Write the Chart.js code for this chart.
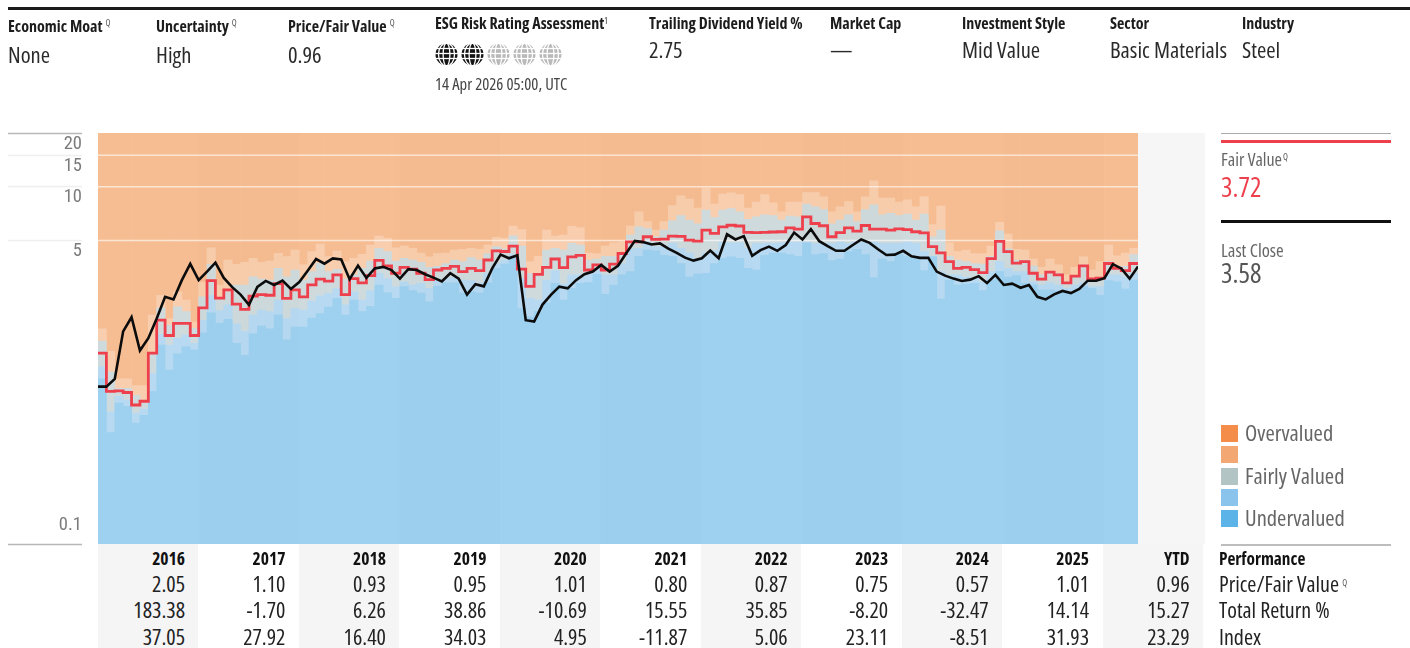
<!DOCTYPE html>
<html><head><meta charset="utf-8">
<script src="https://cdn.jsdelivr.net/npm/chart.js@4/dist/chart.umd.min.js"></script>
<style>
html,body{margin:0;padding:0;background:#fff;width:1410px;height:648px;overflow:hidden}
body{position:relative;font-family:'Open Sans',sans-serif;font-stretch:condensed;color:#222}
canvas{position:absolute;left:0;top:0}
.t{position:absolute;white-space:nowrap;line-height:1;transform:translateY(-50%)}
.r{position:absolute}
sup.q{font-size:9px;color:#555;font-weight:400;vertical-align:6px;line-height:0;margin-left:3px}
</style></head><body>
<canvas id="c" width="1410" height="648"></canvas>
<script>
const years=['2016','2017','2018','2019','2020','2021','2022','2023','2024','2025'];
const monthNames=['Jan','Feb','Mar','Apr','May','Jun','Jul','Aug','Sep','Oct','Nov','Dec'];
const axisTicks=[20,15,10,5,0.1];
const axisMax=20, axisMin=0.1;
const gridLevels=[15,10,5];

// valuation band boundaries (one per month)
const overLimit=[1.60,1.20,0.84,0.84,0.77,0.77,1.91,2.47,1.83,2.58,2.32,1.75,
2.92,4.55,2.82,3.89,3.68,3.78,3.97,3.78,3.84,4.24,4.07,4.42,
3.65,4.33,4.77,4.07,4.37,3.81,3.97,4.19,4.71,5.30,5.14,4.55,
4.65,4.52,4.26,4.05,4.23,4.26,4.42,4.46,4.52,4.47,4.72,5.21,
5.15,6.03,5.75,3.81,4.08,5.72,5.29,5.37,6.00,5.89,4.26,4.21,
4.65,4.85,4.92,6.03,7.24,6.39,5.72,6.39,7.84,8.90,8.52,7.59,
9.79,8.00,9.10,9.24,9.04,7.59,8.21,9.04,8.13,7.24,8.21,8.21,
9.27,9.27,8.79,7.24,7.72,8.27,7.24,8.79,10.8,8.65,8.65,8.21,
8.45,7.72,8.79,6.15,7.79,4.85,4.33,4.42,4.23,4.23,4.65,6.33,
5.43,4.46,4.42,3.94,3.54,3.94,3.65,3.21,3.54,4.05,3.42,3.81,
4.72,4.11,4.26,4.52];
const fairHigh=[1.37,0.92,0.745,0.745,0.68,0.64,1.17,2.10,1.68,2.13,2.00,1.61,
2.42,3.68,2.37,2.58,2.82,2.82,3.13,3.04,3.00,3.49,3.13,3.42,
3.00,3.35,3.73,3.35,3.45,3.04,3.21,3.49,3.84,4.51,4.33,3.84,
3.98,3.89,3.77,3.54,3.58,3.72,3.89,3.81,4.01,3.89,4.23,4.62,
4.50,5.31,4.65,3.28,3.28,4.42,4.52,4.42,4.82,4.72,3.89,3.94,
4.08,4.08,4.26,5.37,5.97,5.83,5.25,5.72,6.45,6.90,6.51,6.21,
7.41,6.72,7.41,7.55,7.24,6.57,6.78,6.97,6.90,6.51,6.85,6.78,
8.00,7.72,7.45,6.21,6.51,6.97,6.39,7.45,7.93,6.97,7.10,6.90,
7.04,6.51,7.04,5.25,5.72,4.08,3.89,3.81,3.72,3.69,4.08,5.67,
4.50,3.89,3.89,3.61,3.21,3.35,3.28,2.94,3.12,3.65,3.06,3.06,
3.81,3.49,3.58,4.17];
const fairLow=[0.98,0.55,0.67,0.64,0.54,0.57,0.90,1.49,1.30,1.42,1.48,1.33,
1.79,2.47,2.03,2.18,1.71,1.55,1.91,2.04,2.00,2.32,1.83,2.08,
2.04,2.29,2.45,2.53,2.69,2.18,2.58,2.32,2.62,3.28,3.06,2.75,
2.94,2.82,2.88,2.70,3.00,3.06,3.10,3.00,2.98,2.88,3.28,3.72,
3.89,4.17,3.06,2.37,2.32,3.00,3.39,2.85,3.21,3.21,3.28,3.49,
3.21,3.21,3.72,4.50,4.52,4.92,4.62,4.62,4.82,4.52,4.26,3.98,
4.26,4.38,4.92,4.85,4.85,4.52,4.82,4.82,4.82,4.85,4.92,4.92,
4.92,4.82,4.82,4.82,4.92,4.82,4.92,4.92,4.92,4.82,4.82,4.82,
4.92,4.82,4.33,4.08,3.35,3.21,3.21,3.12,3.06,2.94,3.35,3.81,
3.49,3.35,3.35,2.94,2.82,2.90,2.82,2.70,2.82,2.90,2.76,2.76,
3.21,3.21,3.12,3.28];
const underLimit=[0.84,0.42,0.615,0.59,0.475,0.525,0.715,1.30,0.94,1.16,1.27,1.22,
1.52,1.97,1.72,1.81,1.33,1.14,1.50,1.66,1.60,1.91,1.39,1.64,
1.64,1.84,1.95,2.12,2.37,1.91,2.32,2.00,2.14,2.82,2.55,2.37,
2.76,2.62,2.54,2.27,2.77,2.90,2.90,2.54,2.58,2.54,2.90,3.49,
3.69,4.08,2.08,1.87,2.00,2.23,2.88,2.32,2.70,2.88,2.91,3.23,
2.50,2.82,3.21,3.35,4.08,4.42,4.38,4.13,4.08,3.72,3.12,3.24,
3.28,3.72,3.98,4.05,3.98,3.49,3.42,4.13,4.26,4.26,4.17,4.08,
4.85,4.17,4.23,3.86,3.94,4.33,4.46,4.17,3.10,3.94,3.81,4.17,
4.08,4.05,3.39,4.05,2.35,3.00,2.82,2.85,2.88,2.62,3.00,3.35,
3.12,3.18,2.88,2.82,2.64,2.64,2.61,2.58,2.58,2.76,2.70,2.47,
2.98,2.94,2.67,3.00];
const fairValue=[1.17,0.715,0.72,0.705,0.60,0.63,1.17,1.79,1.47,1.72,1.72,1.47,
2.10,2.98,2.38,2.65,2.20,2.06,2.44,2.49,2.47,2.87,2.37,2.65,
2.42,2.82,3.04,2.96,3.21,2.49,3.06,2.90,3.18,3.87,3.60,3.28,
3.54,3.46,3.28,3.02,3.42,3.49,3.58,3.35,3.49,3.39,3.89,4.38,
4.34,4.65,3.46,2.77,3.23,3.54,3.94,3.53,4.05,4.13,3.42,3.65,
3.42,3.69,4.23,4.92,4.92,5.25,5.07,5.09,5.29,5.27,5.03,4.96,
5.72,5.49,5.97,6.09,6.03,5.56,5.54,5.56,5.58,5.60,5.89,5.79,
6.78,6.23,6.05,5.25,5.54,5.89,5.65,6.07,5.79,5.79,5.72,5.81,
5.75,5.60,5.52,4.62,4.26,3.81,3.49,3.54,3.44,3.31,3.96,4.94,
4.33,3.74,3.81,3.28,3.04,3.33,3.21,2.90,3.16,3.61,3.05,3.08,
3.72,3.49,3.39,3.72,3.72];
const lastClose=[0.76,0.76,0.84,1.55,1.86,1.21,1.42,1.83,2.42,2.34,3.00,3.70,
3.00,3.35,3.76,3.09,2.74,2.49,2.18,2.75,2.97,2.82,2.98,2.68,
2.93,3.39,3.94,3.71,3.97,3.92,3.04,3.62,3.09,3.49,3.56,3.42,
3.06,3.46,3.42,3.24,3.10,2.95,3.28,3.06,2.49,2.85,2.77,3.49,
4.17,3.98,4.13,1.79,1.76,2.19,2.48,2.76,2.70,3.00,3.24,3.35,
3.65,3.35,3.61,4.26,4.98,4.90,4.75,4.82,4.50,4.26,4.01,3.86,
3.98,4.40,3.98,5.42,5.07,5.29,4.11,4.42,4.62,4.38,4.72,5.54,
5.07,5.79,4.96,4.65,4.38,4.38,4.72,5.07,4.85,4.47,4.15,4.17,
4.38,4.08,4.00,4.00,3.35,3.18,3.06,2.97,3.02,3.16,2.89,3.21,
2.82,2.87,2.72,2.82,2.42,2.34,2.50,2.61,2.54,2.68,2.98,2.98,
3.08,3.69,3.49,3.06,3.58];

const rowPFV=['2.05','1.10','0.93','0.95','1.01','0.80','0.87','0.75','0.57','1.01','0.96'];
const rowReturn=['183.38','-1.70','6.26','38.86','-10.69','15.55','35.85','-8.20','-32.47','14.14','15.27'];
const rowIndex=['37.05','27.92','16.40','34.03','4.95','-11.87','5.06','23.11','-8.51','31.93','23.29'];
const rowNames=['Performance','Price/Fair Value','Total Return %','Index'];
const legendNames=['Overvalued','','Fairly Valued','','Undervalued'];
const legendColors=['#F48D4A','#F3A873','#B2C5C4','#8AC3EC','#5CB3E8'];

// ---------- chart ----------
const months=[];
for(const y of years.concat(['2026'])) for(const m of monthNames){ if(months.length<overLimit.length) months.push(m+' '+y); }
const edges=months.concat(['End']);
const shade=(a,b)=>c=>Math.floor(c.dataIndex/12)%2?b:a;
const bar=(label,data,a,b,order)=>({type:'bar',label,data,xAxisID:'x',yAxisID:'y',order,grouped:false,
  barPercentage:1,categoryPercentage:1,borderWidth:0,backgroundColor:shade(a,b),hoverBackgroundColor:shade(a,b)});
const line=(label,data,color,width,order,extra)=>Object.assign({type:'line',label,data,xAxisID:'x2',yAxisID:'y',order,
  borderColor:color,borderWidth:width,pointRadius:0,pointHoverRadius:0,fill:false,tension:0,borderJoinStyle:'miter'},extra||{});
const datasets=[
  line('Last Close',lastClose,'#0c0c0c',2.6,0),
  line('Fair Value',fairValue,'#EE3F4C',2.8,1,{stepped:true}),
  ...gridLevels.map(v=>line('Grid '+v,edges.map(()=>v),'rgba(255,255,255,0.6)',1.4,2)),
  bar('Undervalued',underLimit,'#9ED1EF','#9CCFED',3),
  bar('Undervalued band',fairLow,'#B7D9F1','#B5D7EF',4),
  bar('Fairly Valued',fairHigh,'#CFDADC','#CDD8DA',5),
  bar('Overvalued band',overLimit,'#F8CEAE','#F7CCAB',6),
  bar('Overvalued',months.map(()=>axisMax),'#F6BD93','#F5BB90',7)
];
new Chart(document.getElementById('c'),{
  data:{labels:months,datasets},
  options:{
    responsive:false,animation:false,devicePixelRatio:1,
    layout:{padding:{left:8,right:272,top:133,bottom:104}},
    plugins:{legend:{display:false},tooltip:{enabled:false}},
    events:[],
    scales:{
      x:{type:'category',labels:months,offset:true,display:false},
      x2:{type:'category',labels:edges,offset:false,display:false},
      y:{type:'logarithmic',min:axisMin,max:axisMax,
        afterFit:s=>{s.width=90},
        afterBuildTicks:s=>{s.ticks=axisTicks.map(v=>({value:v}))},
        border:{display:false},
        grid:{drawOnChartArea:false,drawTicks:true,tickLength:90,tickWidth:1.5,
          tickColor:c=>(c.tick&&(c.tick.value===axisMax||c.tick.value===axisMin))?'#b8b8b8':'#efefef'},
        ticks:{autoSkip:false,maxRotation:0,minRotation:0,padding:-74,labelOffset:11,color:'#7b7b7b',
          font:{family:"'Roboto Condensed','Open Sans',sans-serif",size:18.5,lineHeight:1.05},
          callback:v=>v===axisMin?[String(v),'','','']:String(v)}
      }
    }
  }
});

// ---------- page furniture ----------
const add=(html,style,cls)=>{const d=document.createElement('div');d.className=cls||'t';d.innerHTML=html;d.style.cssText=style;document.body.appendChild(d);return d};
const rect=(x,y,w,h,c)=>add('',`left:${x}px;top:${y}px;width:${w}px;height:${h}px;background:${c}`,'r');
const txt=(x,y,s,size,o)=>{o=o||{};const pos=o.right?`right:${1410-x}px`:`left:${x}px`;
  return add(s,`${pos};top:${y}px;font-size:${size}px;color:${o.color||'#222'};font-weight:${o.bold?700:400}`)};
const Q='<sup class="q">Q</sup>';

rect(8,7,1402,3,'#1b1b1b');
rect(82,125,16,425,'#fff');             // gap between the axis rules and the plot
rect(1138,133,67,411,'#f6f6f6');        // empty panel to the right of the data

const head=[[8,25.5,'Economic Moat'+Q],[156,25.5,'Uncertainty'+Q],[288,25.5,'Price/Fair Value'+Q],
 [435,22.5,'ESG Risk Rating Assessment<sup style="font-size:8px;font-weight:400;vertical-align:5px;line-height:0">1</sup>'],
 [649,22.5,'Trailing Dividend Yield %'],[830,22.5,'Market Cap'],[962,22.5,'Investment Style'],[1110,22.5,'Sector'],[1242,22.5,'Industry']];
head.forEach(h=>txt(h[0],h[1],h[2],16,{bold:true,color:'#1c1c1c'}));
const vals=[[8,54.5,'None'],[156,54.5,'High'],[288,54.5,'0.96'],[649,49.5,'2.75'],[830,49.5,'—'],[962,49.5,'Mid Value'],[1110,49.5,'Basic Materials'],[1242,49.5,'Steel']];
vals.forEach(h=>txt(h[0],h[1],h[2],22.5,{color:'#2a2a2a'}));
txt(435,84,'14 Apr 2026 05:00, UTC',16.6,{color:'#444'});

// ESG globes
const globe=(cx,on)=>{const c=on?'#141414':'#b9b9b9';
 return `<svg style="position:absolute;left:${cx-11.5}px;top:43px" width="23" height="23" viewBox="-11.5 -11.5 23 23">
 <circle r="11" fill="${c}"/><g fill="none" stroke="#fff" stroke-width="1.3">
 <ellipse rx="3.4" ry="11.5"/><ellipse rx="8" ry="11.5"/>
 <line x1="-12" y1="-6" x2="12" y2="-6"/><line x1="-12" y1="-1" x2="12" y2="-1"/><line x1="-12" y1="4" x2="12" y2="4"/></g></svg>`};
[446.5,472,498,524,550].forEach((x,i)=>{const w=document.createElement('div');w.innerHTML=globe(x,i<2);document.body.appendChild(w.firstElementChild)});

// right panel
rect(1221,133,170,1,'#aaaaaa');
rect(1221,140,170,3,'#EE3F4C');
txt(1221,158.5,'Fair Value<sup class="q" style="margin-left:1px">Q</sup>',18,{color:'#666'});
txt(1221,186,'3.72',27,{color:'#EE3F4C'});
rect(1221,220,170,3,'#111');
txt(1221,250,'Last Close',18.5,{color:'#666'});
txt(1221,272,'3.58',27,{color:'#555'});
const legY=[433,454,476,497,518];
legendNames.forEach((n,i)=>{rect(1221,legY[i]-8.5,17,17,legendColors[i]);if(n)txt(1245,legY[i],n,22.5,{color:'#666'})});
rect(1221,544,170,1.5,'#bdbdbd');

// table
const colW=100.45;
years.concat(['YTD']).forEach((y,i)=>{
  const left=98+colW*i;
  if(i%2===0) rect(left,544,colW,104,'#f5f5f5');
  const rx=left+87;
  txt(rx,559,y,17.5,{right:true,bold:true,color:'#111'});
  txt(rx,583,rowPFV[i],22,{right:true});
  txt(rx,609,rowReturn[i],22,{right:true});
  txt(rx,636,rowIndex[i],22,{right:true});
});
txt(1219,559,rowNames[0],17.3,{bold:true,color:'#111'});
txt(1219,583,rowNames[1]+'<sup class="q">Q</sup>',22);
txt(1219,609,rowNames[2],22);
txt(1219,636,rowNames[3],22);
</script>
</body></html>
